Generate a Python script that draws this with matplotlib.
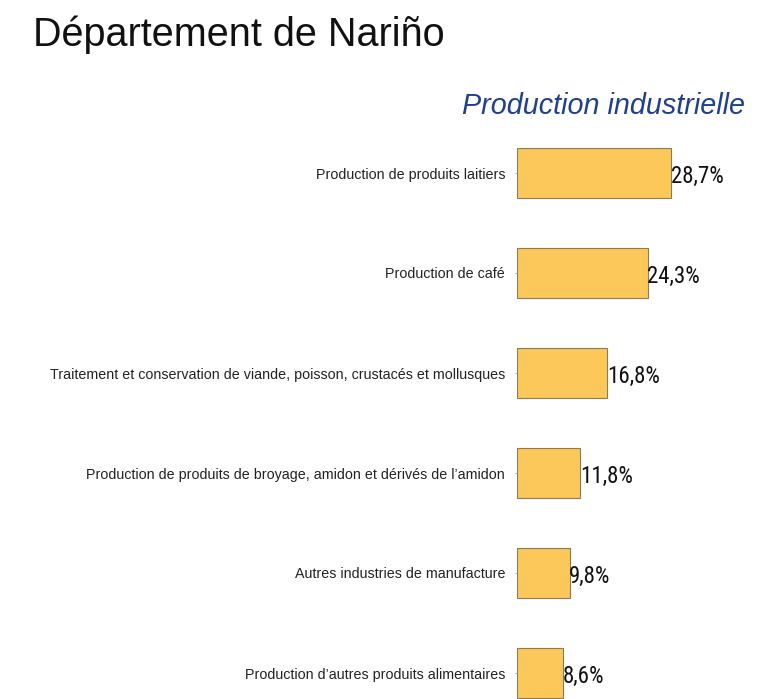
import matplotlib
matplotlib.use("Agg")
import matplotlib.pyplot as plt

categories = [
    "Production de produits laitiers",
    "Production de café",
    "Traitement et conservation de viande, poisson, crustacés et mollusques",
    "Production de produits de broyage, amidon et dérivés de l’amidon",
    "Autres industries de manufacture",
    "Production d’autres produits alimentaires",
]
values = [28.7, 24.3, 16.8, 11.8, 9.8, 8.6]
value_labels = ["28,7%", "24,3%", "16,8%", "11,8%", "9,8%", "8,6%"]

W, H = 759, 699
fig = plt.figure(figsize=(W / 100, H / 100), dpi=100)
fig.patch.set_facecolor("white")

ax = fig.add_axes([517 / W, 0, 215 / W, (H - 148) / H])
ypos = list(range(len(categories)))
ax.barh(ypos, values, height=0.5, color="#FCC85A", edgecolor="#8a7a55", linewidth=0.8)
ax.set_ylim(-0.25 + (H - 148) / 100, -0.25)
ax.set_xlim(0, 40)
ax.set_yticks(ypos)
ax.set_yticklabels(categories, fontsize=10.3, family=["Liberation Sans", "DejaVu Sans"], color="#222222")
ax.tick_params(axis="y", length=1.5, color="#aaaaaa", pad=7)
ax.set_xticks([])
for s in ax.spines.values():
    s.set_visible(False)

for y, v, lab in zip(ypos, values, value_labels):
    ax.text(v - 0.1, y + 0.03, lab, va="center", ha="left", fontsize=16.5,
            family=["Roboto Condensed", "DejaVu Sans Condensed", "Liberation Sans Narrow",
                    "Liberation Sans"], color="#111111")

fig.text(33 / W, 1 - 35 / H, "Département de Nariño", fontsize=28.5, va="center", ha="left",
         family=["Liberation Sans", "DejaVu Sans"], color="#111111")
fig.text(745 / W, 1 - 106 / H, "Production industrielle", fontsize=20.7, va="center", ha="right",
         style="italic", family=["Liberation Sans", "DejaVu Sans"], color="#1f3f8f")

fig.savefig("out.png", dpi=100, facecolor="white")
